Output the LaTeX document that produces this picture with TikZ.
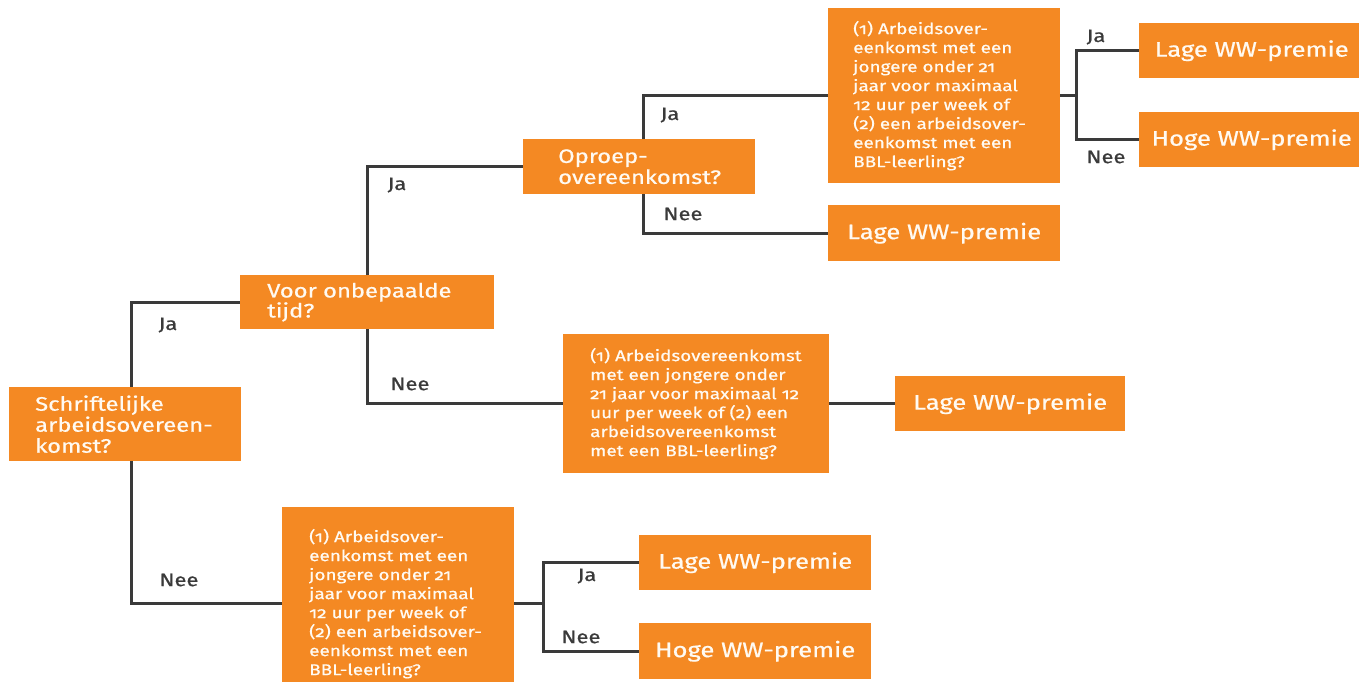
\documentclass[tikz,border=0pt]{standalone}
\usepackage{fontspec}
\setmainfont{Fira Sans}[Numbers=OldStyle, FakeStretch=1.22, FakeBold=0.7]
\definecolor{rorange}{RGB}{244,137,35}
\definecolor{rline}{RGB}{58,58,58}
\definecolor{rtext}{RGB}{255,250,242}
\newcommand{\padtext}[3]{\hspace*{#1pt}\parbox[c]{#2pt}{\raggedright #3}}
\begin{document}
\begin{tikzpicture}[x=1pt,y=-1pt,
  box/.style={fill=rorange, text=rtext, anchor=north west, inner sep=0pt},
  qbox/.style={box, font=\fontsize{19.5}{21}\selectfont},
  sbox/.style={box, font=\fontsize{15.5}{19}\selectfont},
  res/.style={box, align=center, font=\fontsize{21}{24}\selectfont},
  conn/.style={draw=rline, line width=2.6pt},
  lab/.style={text=rline, font=\fontsize{18}{20}\selectfont},
]
\clip (0,0) rectangle (1359,681);
\fill[white] (0,0) rectangle (1359,681);

% question boxes
\node[qbox, minimum width=232, minimum height=74] (A) at (9,387)
  {\padtext{26}{206}{Schriftelijke\\arbeidsovereen-\\komst?}};
\node[qbox, minimum width=254, minimum height=54, font=\fontsize{19.5}{20}\selectfont] (B) at (240,275)
  {\padtext{27}{227}{Voor onbepaalde\\tijd?}};
\node[qbox, minimum width=232, minimum height=55] (C) at (523,139)
  {\padtext{35}{197}{Oproep-\\overeenkomst?}};
\node[sbox, minimum width=232, minimum height=175] (D) at (828,8)
  {\padtext{25}{207}{(1) Arbeidsover-\\eenkomst met een\\jongere onder 21\\jaar voor maximaal\\12 uur per week of\\(2) een arbeidsover-\\eenkomst met een\\BBL-leerling?}};
\node[sbox, minimum width=266, minimum height=139] (K) at (563,334)
  {\padtext{27}{239}{(1) Arbeidsovereenkomst\\met een jongere onder\\21 jaar voor maximaal 12\\uur per week of (2) een\\arbeidsovereenkomst\\met een BBL-leerling?}};
\node[sbox, minimum width=232, minimum height=193] (H) at (282,507)
  {\padtext{27}{205}{(1) Arbeidsover-\\eenkomst met een\\jongere onder 21\\jaar voor maximaal\\12 uur per week of\\(2) een arbeidsover-\\eenkomst met een\\BBL-leerling?}};

% result boxes
\node[res, minimum width=225, minimum height=55] (E) at (1139,23) {Lage WW-premie};
\node[res, minimum width=225, minimum height=55] (F) at (1139,112) {Hoge WW-premie};
\node[res, minimum width=232, minimum height=56] (G) at (828,205) {Lage WW-premie};
\node[res, minimum width=230, minimum height=55] (L) at (895,376) {Lage WW-premie};
\node[res, minimum width=232, minimum height=55] (I) at (639,535) {Lage WW-premie};
\node[res, minimum width=232, minimum height=56] (J) at (639,623) {Hoge WW-premie};

% connectors
\draw[conn] ([xshift=6]A.north) |- (B.west);
\draw[conn] ([xshift=6]A.south) |- (H.west);
\draw[conn] (B.north) |- (C.west);
\draw[conn] (B.south) |- (K.west);
\draw[conn] ([xshift=4]C.north) |- (D.west);
\draw[conn] ([xshift=4]C.south) |- (G.west);
\draw[conn] (K.east) -- (L.west);
\draw[conn] (D.east) -- ++(16,0) coordinate (dj);
\draw[conn] (E.west) -| (dj) |- (F.west);
\draw[conn] (H.east) -- ++(29,0) coordinate (hj);
\draw[conn] (I.west) -| (hj) |- (J.west);

% labels
\node[lab] (l1) at (168,325) {Ja};
\node[lab] (l2) at (179,580) {Nee};
\node[lab] (l3) at (397,185) {Ja};
\node[lab] (l4) at (410,384) {Nee};
\node[lab] (l5) at (670,115) {Ja};
\node[lab] (l6) at (683,214) {Nee};
\node[lab] (l7) at (1096,37) {Ja};
\node[lab] (l8) at (1106,157) {Nee};
\node[lab] (l9) at (587,576) {Ja};
\node[lab] (l10) at (581,637) {Nee};
\end{tikzpicture}
\end{document}
